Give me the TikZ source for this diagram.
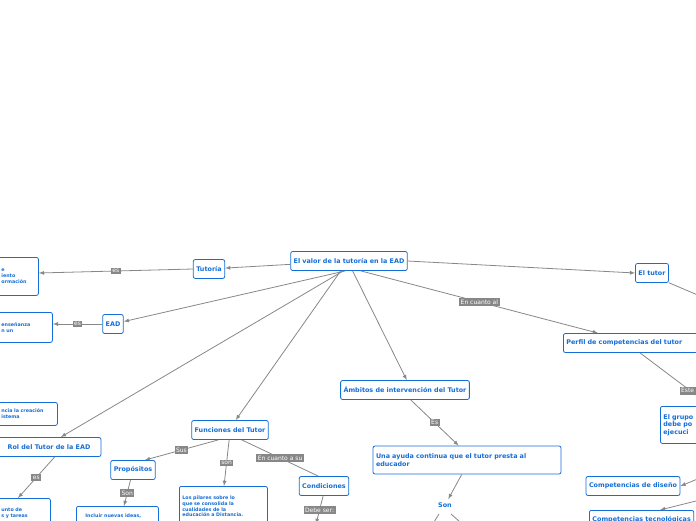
\documentclass[tikz,border=0pt]{standalone}
\usepackage{fontspec}
\setmainfont{DejaVu Sans}
\usetikzlibrary{positioning}
\definecolor{mapblue}{RGB}{20,110,215}
\definecolor{linkgray}{RGB}{135,135,135}
\begin{document}
\begin{tikzpicture}[x=1pt,y=-1pt,
        box/.style={draw=mapblue, rounded corners=2pt, fill=white, text=mapblue, font=\bfseries\fontsize{6.4}{7.5}\selectfont, inner sep=3pt, minimum height=19pt, thick},
        note/.style={box, font=\bfseries\fontsize{4.8}{5.8}\selectfont, align=left, anchor=north west},
        tag/.style={fill=linkgray, text=white, font=\fontsize{6}{6.5}\selectfont, inner sep=1.5pt},
        arrow/.style={->, >=latex, linkgray, thick},
        link/.style={linkgray, thick}
    ]
    \useasboundingbox (0,0) rectangle (696,520);
    \clip (0,0) rectangle (696,520);
    % Nodos
    \node[box] (valor) at (349,261) {El valor de la tutoría en la EAD};
    \node[box] (tutoria) at (209,269) {Tutoría};
    \node[note, text width=52pt, minimum height=38pt] (tutoriaDef) at (-20,257) {\hspace*{18pt}e\\\hspace*{18pt}iento\\\hspace*{18pt}ormación};
    \node[box] (ead) at (113,324) {EAD};
    \node[note, text width=66pt, minimum height=30pt] (eadDef) at (-20,312) {\hspace*{18pt}enseñanza\\\hspace*{18pt}n un};
    \node[note, text width=71pt, minimum height=23pt] (rolNota) at (-20,402) {\hspace*{18pt}ncia la creación\\\hspace*{18pt}istema};
    \node[box, minimum width=104pt] (rol) at (49,447) {Rol del Tutor de la EAD};
    \node[note, text width=64pt, minimum height=30pt] (rolDef) at (-20,498) {\hspace*{18pt}unto de\\\hspace*{18pt}s y tareas};
    \node[box] (funciones) at (230,430) {Funciones del Tutor};
    \node[box] (propositos) at (133,470) {Propósitos};
    \node[note, text width=76pt, minimum height=20pt] (ideas) at (76,506) {\hspace*{6pt}Incluir nuevas ideas,};
    \node[note, text width=82pt, minimum height=40pt] (pilares) at (179,486) {Los pilares sobre lo\\que se consolida la\\cualidades de la\\educación a Distancia.};
    \node[box] (condiciones) at (324,486) {Condiciones};
    \node[box] (ambitos) at (405,390) {Ámbitos de intervención del Tutor};
    \node[box, text width=182pt, align=left, minimum height=28pt] (ayuda) at (467,460) {Una ayuda continua que el tutor presta al\\educador};
    \node[text=mapblue, font=\bfseries\fontsize{6.4}{7.5}\selectfont] (son) at (445,505) {Son};
    \node[box] (tutor) at (652,273) {El tutor};
    \node[box, anchor=west, text width=140pt, align=left] (perfil) at (563,343) {Perfil de competencias del tutor};
    \node[box, anchor=north west, text width=60pt, align=left, minimum height=37pt] (grupo) at (660,406) {El grupo\\debe po\\ejecuci};
    \node[box] (diseno) at (633,486) {Competencias de diseño};
    \node[box, anchor=north west] (tecno) at (589,510) {Competencias tecnológicas};
    % Coordenadas fuera del cuadro
    \coordinate (tutorFin) at (700,296);
    \coordinate (disenoIni) at (700,478);
    \coordinate (tecnoIni) at (700,500);
    \coordinate (sonIzq) at (434,522);
    \coordinate (sonDer) at (460,522);
    \coordinate (debeFin) at (316,524);
    % Flechas
    \draw[arrow] (valor) -- (tutoria);
    \draw[arrow] (tutoria.west) -- node[tag] {es} (tutoriaDef.east |- 0,273);
    \draw[arrow] (valor.250) -- (ead);
    \draw[arrow] (ead.west) -- node[tag] {es} (eadDef.east |- 0,324);
    \draw[arrow] (valor.240) -- (rol.40);
    \draw[arrow] (rol.300) -- node[tag] {es} (rolDef.north -| 18,498);
    \draw[arrow] (valor.230) -- (funciones.60);
    \draw[arrow] (funciones.220) -- node[tag] {Sus} (propositos.40);
    \draw[arrow] (propositos) -- node[tag] {Son} (ideas.north -| 124,506);
    \draw[arrow] (funciones.265) -- node[tag] {son} (pilares.north -| 224,486);
    \draw[link] (funciones.320) -- node[tag] {En cuanto a su} (condiciones.120);
    \draw[arrow] (condiciones.265) -- node[tag] {Debe ser:} (debeFin);
    \draw[arrow] (valor.290) -- (ambitos.80);
    \draw[arrow] (ambitos.300) -- node[tag] {Es} (ayuda.120);
    \draw[arrow] (ayuda.250) -- (son);
    \draw[link] (son.south) ++(-6,3) -- (sonIzq);
    \draw[link] (son.south) ++(6,3) -- (sonDer);
    \draw[arrow] (valor.east) -- (tutor.west);
    \draw[link] (tutor.330) -- (tutorFin);
    \draw[arrow] (valor.320) -- node[tag] {En cuanto al} (perfil.north -| 598,333);
    \draw[link] (perfil.south -| 640,353) -- node[tag, pos=0.9] {Este e} (696,395);
    \draw[arrow] (disenoIni) -- (diseno.east);
    \draw[arrow] (tecnoIni) -- (tecno.north -| 660,510);
\end{tikzpicture}
\end{document}
